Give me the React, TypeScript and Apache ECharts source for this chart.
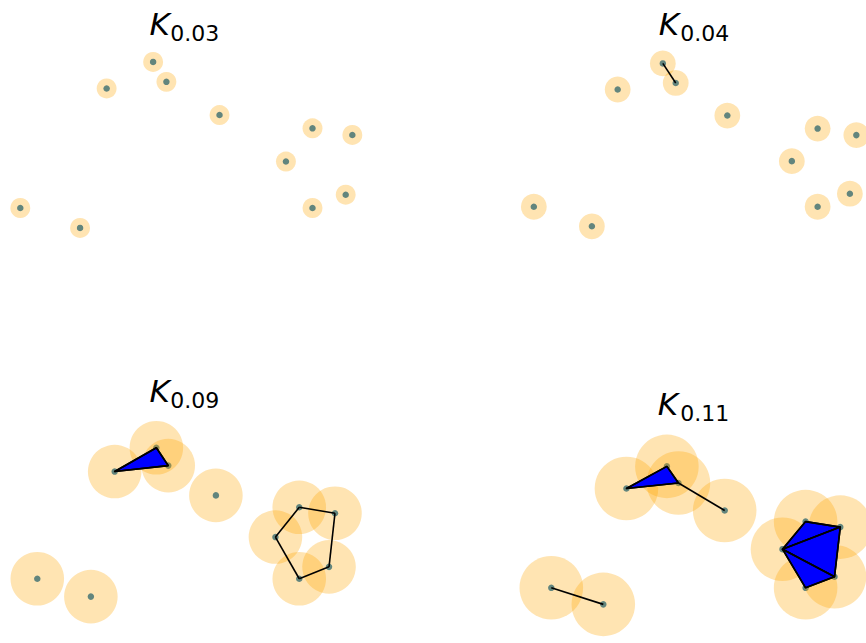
import React, { useEffect, useRef } from "react";
import * as echarts from "echarts";

// Point cloud shared by all four panels (data units)
const pointX = [0.45, 0.49, 0.31, 0.65, 0.93, 1.05, 0.85, 1.03, 0.93, 0.05, 0.23];
const pointY = [0.54, 0.48, 0.46, 0.38, 0.34, 0.32, 0.24, 0.14, 0.1, 0.1, 0.04];

// Ball radius used for each panel, and its subscript label
const radii = [0.03, 0.04, 0.09, 0.11];
const radiusLabels = ["0.03", "0.04", "0.09", "0.11"];

// Simplices of each complex, as indices into the point cloud
const edgesByPanel: number[][][] = [
  [],
  [[0, 1]],
  [[0, 1], [1, 2], [0, 2], [4, 5], [5, 7], [7, 8], [8, 6], [6, 4]],
  [[0, 1], [1, 2], [0, 2], [1, 3], [9, 10], [4, 5], [5, 7], [7, 8], [8, 6], [6, 4], [6, 5], [6, 7]],
];
const trianglesByPanel: number[][][] = [
  [],
  [],
  [[0, 1, 2]],
  [[0, 1, 2], [6, 4, 5], [6, 5, 7], [6, 7, 8]],
];

// Panel frames: pixel boxes and the data window they show
const X_WINDOW = [0, 1.08];
const Y_WINDOW = [-0.1, 0.65];
const panelBoxes = [
  { left: 3.7, top: 25.4, width: 358.6, height: 249.0 },
  { left: 517.7, top: 27.6, width: 351.8, height: 244.3 },
  { left: 22.4, top: 415.0, width: 321.5, height: 223.3 },
  { left: 536.85, top: 436.05, width: 312.1, height: 216.75 },
];
// Title placement: italic K origin and its subscript origin / centre lines
const titleAnchors = [
  { kx: 149.5, sx: 170.3, ky: 23.6, sy: 33.1 },
  { kx: 658.8, sx: 680.3, ky: 23.6, sy: 33.1 },
  { kx: 149.5, sx: 170.3, ky: 390.6, sy: 400.1 },
  { kx: 657.8, sx: 680.3, ky: 403.6, sy: 413.1 },
];

const DOT_COLOR = "#1f77b4";
const BALL_COLOR = "rgba(255,165,0,0.3)";
const FONT = '"DejaVu Sans"';

export default function App() {
  const ref = useRef<HTMLDivElement>(null);

  useEffect(() => {
    document.body.style.margin = "0";
    if (!ref.current) return;
    const chart = echarts.init(ref.current, null, { renderer: "svg" });

    const points = pointX.map((x, i) => [x, pointY[i]]);

    const grid = panelBoxes.map((b) => ({ ...b, show: false, containLabel: false }));
    const xAxis = panelBoxes.map((_, i) => ({
      type: "value",
      gridIndex: i,
      min: X_WINDOW[0],
      max: X_WINDOW[1],
      show: false,
    }));
    const yAxis = panelBoxes.map((_, i) => ({
      type: "value",
      gridIndex: i,
      min: Y_WINDOW[0],
      max: Y_WINDOW[1],
      show: false,
    }));

    // K_eps titles: italic K followed by a lowered subscript
    const graphic: any[] = [];
    radiusLabels.forEach((lab, i) => {
      const a = titleAnchors[i];
      graphic.push({
        type: "text",
        x: a.kx,
        y: a.ky,
        silent: true,
        style: {
          text: "K",
          font: `italic normal 31px ${FONT}`,
          fill: "#000",
          align: "left",
          verticalAlign: "middle",
        },
      });
      graphic.push({
        type: "text",
        x: a.sx,
        y: a.sy,
        silent: true,
        style: {
          text: lab,
          font: `normal normal 22px ${FONT}`,
          fill: "#000",
          align: "left",
          verticalAlign: "middle",
        },
      });
    });

    const series: any[] = [];
    radii.forEach((eps, i) => {
      // centres of the balls
      series.push({
        type: "scatter",
        xAxisIndex: i,
        yAxisIndex: i,
        data: points,
        symbol: "circle",
        symbolSize: 6.5,
        itemStyle: { color: DOT_COLOR, opacity: 1 },
        silent: true,
        z: 1,
      });
      // balls of radius eps
      series.push({
        type: "custom",
        xAxisIndex: i,
        yAxisIndex: i,
        data: points,
        encode: { x: 0, y: 1 },
        silent: true,
        z: 2,
        renderItem: (_p: any, api: any) => {
          const c = api.coord([api.value(0), api.value(1)]);
          const r = api.size([eps, 0])[0];
          return {
            type: "circle",
            shape: { cx: c[0], cy: c[1], r },
            style: { fill: BALL_COLOR },
          };
        },
      });
      // filled 2-simplices
      const tri = trianglesByPanel[i].map((t) => t.flatMap((k) => points[k]));
      series.push({
        type: "custom",
        xAxisIndex: i,
        yAxisIndex: i,
        data: tri,
        encode: { x: [0, 2, 4], y: [1, 3, 5] },
        silent: true,
        z: 3,
        renderItem: (_p: any, api: any) => {
          const pts = [0, 1, 2].map((j) =>
            api.coord([api.value(2 * j), api.value(2 * j + 1)])
          );
          return {
            type: "polygon",
            shape: { points: pts },
            style: { fill: "#0000ff", stroke: "#000", lineWidth: 1.6, lineJoin: "round" },
          };
        },
      });
      // 1-simplices
      const edg = edgesByPanel[i].map((e) => [...points[e[0]], ...points[e[1]]]);
      series.push({
        type: "custom",
        xAxisIndex: i,
        yAxisIndex: i,
        data: edg,
        encode: { x: [0, 2], y: [1, 3] },
        silent: true,
        z: 4,
        renderItem: (_p: any, api: any) => {
          const a = api.coord([api.value(0), api.value(1)]);
          const b = api.coord([api.value(2), api.value(3)]);
          return {
            type: "line",
            shape: { x1: a[0], y1: a[1], x2: b[0], y2: b[1] },
            style: { stroke: "#000", lineWidth: 1.6 },
          };
        },
      });
    });

    chart.setOption({
      animation: false,
      backgroundColor: "#ffffff",
      grid,
      xAxis,
      yAxis,
      graphic,
      series,
    });

    return () => chart.dispose();
  }, []);

  return <div ref={ref} style={{ width: 866, height: 643 }} />;
}
